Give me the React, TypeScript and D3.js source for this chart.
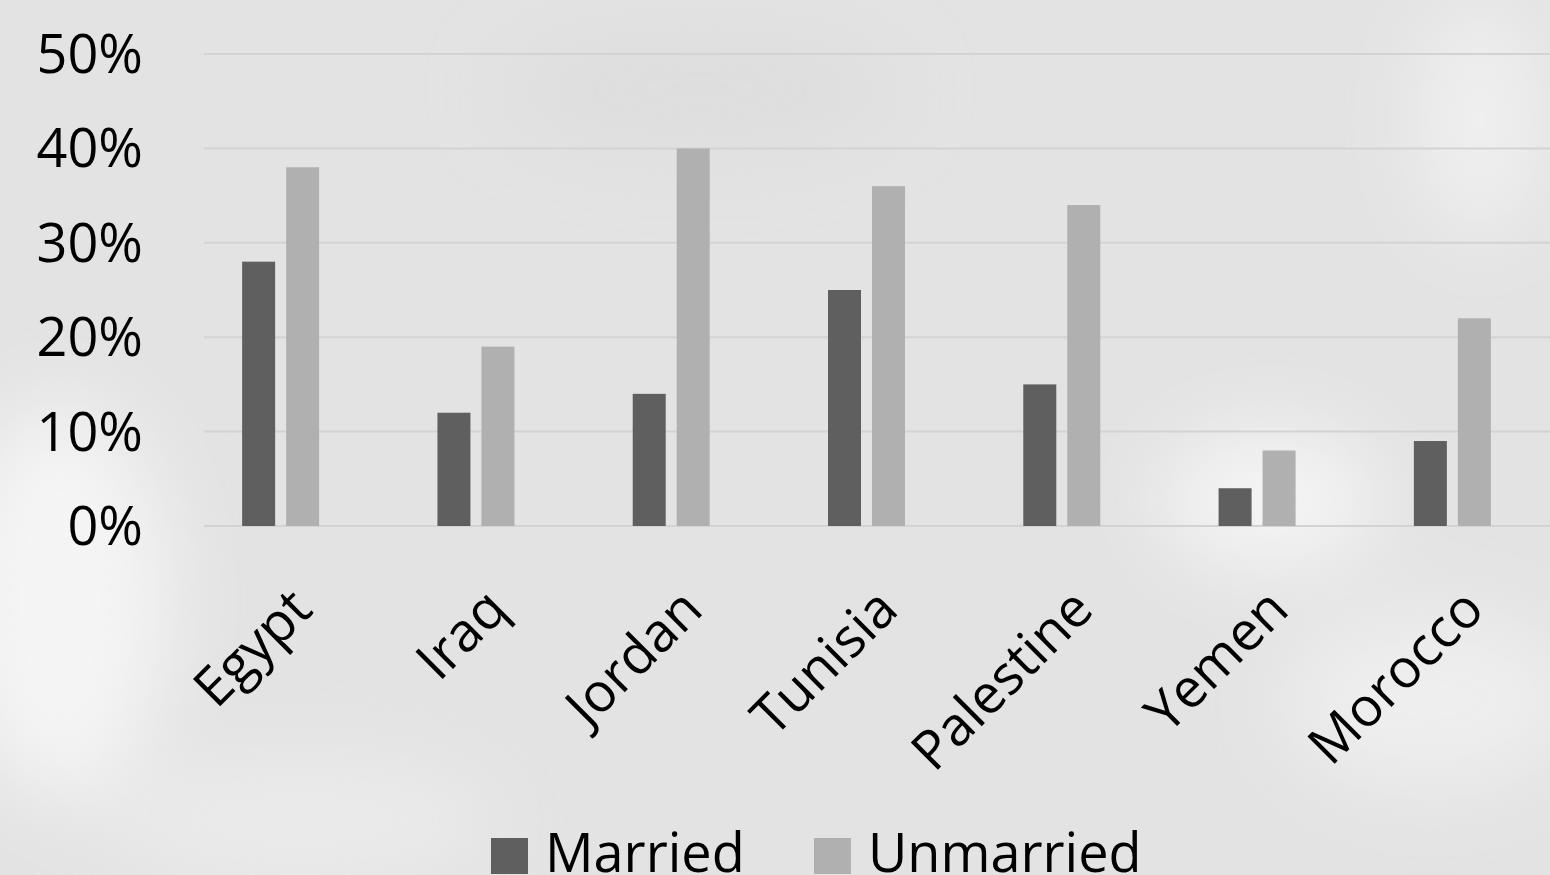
import React from "react";
import * as d3 from "d3";

const categories = ["Egypt", "Iraq", "Jordan", "Tunisia", "Palestine", "Yemen", "Morocco"];
const seriesNames = ["Married", "Unmarried"];
const married = [28, 12, 14, 25, 15, 4, 9];
const unmarried = [38, 19, 40, 36, 34, 8, 22];
const yTicks = [0, 10, 20, 30, 40, 50];
const colors = ["#5f5f5f", "#b0b0b0"];

const W = 1550;
const H = 875;
const FONT = "'Open Sans', 'Noto Sans', sans-serif";

export default function App() {
  const x = d3.scaleBand<string>().domain(categories).range([183, 1550]).paddingInner(0).paddingOuter(0);
  const y = d3.scaleLinear().domain([0, 50]).range([526, 54]);
  const inner = d3.scaleBand<string>().domain(seriesNames).range([0, 77]).paddingInner(0.25);
  const gridLeft = 204;
  const series = [married, unmarried];

  return (
    <svg width={W} height={H} style={{ position: "absolute", left: 0, top: 0, display: "block" }}>
      <defs>
        <filter id="blur" x="-50%" y="-50%" width="200%" height="200%">
          <feGaussianBlur stdDeviation="40" />
        </filter>
      </defs>
      <rect x={0} y={0} width={W} height={H} fill="#e3e3e3" />
      <g filter="url(#blur)" opacity={0.75}>
        <ellipse cx={60} cy={600} rx={110} ry={200} fill="#fafafa" />
        <ellipse cx={1270} cy={500} rx={110} ry={70} fill="#fafafa" />
        <ellipse cx={1430} cy={700} rx={150} ry={90} fill="#f2f2f2" />
        <ellipse cx={300} cy={820} rx={200} ry={60} fill="#eeeeee" />
        <ellipse cx={1480} cy={120} rx={60} ry={120} fill="#f4f4f4" />
        <ellipse cx={700} cy={90} rx={200} ry={60} fill="#dcdcdc" />
      </g>
      {yTicks.map((t) => (
        <g key={t}>
          <line x1={gridLeft} x2={W} y1={y(t)} y2={y(t)} stroke="#d3d3d3" strokeWidth={2} />
          <text x={143} y={y(t) + 19} textAnchor="end" fontFamily={FONT} fontSize={54} fill="#000">
            {t}%
          </text>
        </g>
      ))}
      {categories.map((c, i) => {
        const bandCenter = (x(c) as number) + x.bandwidth() / 2;
        const start = bandCenter - 77 / 2;
        return (
          <g key={c}>
            {series.map((s, j) => (
              <rect
                key={j}
                x={start + (inner(seriesNames[j]) as number)}
                y={y(s[i])}
                width={inner.bandwidth()}
                height={y(0) - y(s[i])}
                fill={colors[j]}
              />
            ))}
            <text
              transform={`translate(${bandCenter + 34},${612}) rotate(-45)`}
              textAnchor="end"
              fontFamily={FONT}
              fontSize={54}
              fill="#000"
            >
              {c}
            </text>
          </g>
        );
      })}
      <g>
        <rect x={491} y={838} width={37} height={36} fill={colors[0]} />
        <text x={545} y={872} fontFamily={FONT} fontSize={54} fill="#000">
          {seriesNames[0]}
        </text>
        <rect x={814} y={838} width={37} height={36} fill={colors[1]} />
        <text x={868} y={872} fontFamily={FONT} fontSize={54} fill="#000">
          {seriesNames[1]}
        </text>
      </g>
    </svg>
  );
}
